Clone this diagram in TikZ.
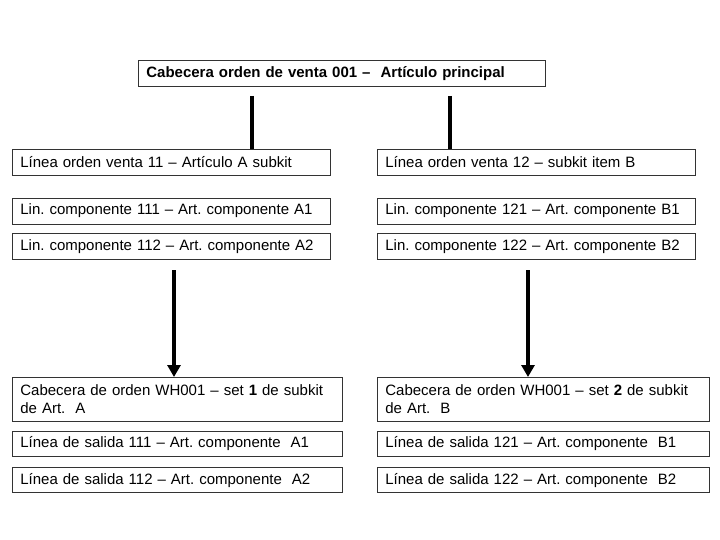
\documentclass[tikz,border=0pt]{standalone}
\usepackage{fontspec}
\setmainfont{Liberation Sans}
\usetikzlibrary{positioning,arrows.meta}
\tikzset{
	ordbox/.style={draw=black!80, line width=0.7pt, inner xsep=8pt, inner ysep=0pt,
		align=left, anchor=north west, font=\fontsize{15}{18.5}\selectfont\frenchspacing},
	stem/.style={line width=4pt},
	flow/.style={line width=4pt, -{Triangle[width=13pt,length=12pt]}},
}

\begin{document}
\begin{tikzpicture}[x=1pt, y=-1pt]
	\useasboundingbox (0,0) rectangle (720,540);

	% cabecera
	\node[ordbox, text width=391pt, minimum height=26pt] (cab) at (138,60)
		{\bfseries Cabecera orden de venta 001 –~ Artículo principal};

	% lado A
	\node[ordbox, text width=302pt, minimum height=26pt] (olA) at (12,149)
		{Línea orden venta 11 – Artículo A subkit};
	\node[ordbox, text width=302pt, minimum height=26pt, below=22pt of olA] (clA1)
		{Lin. componente 111 – Art. componente A1};
	\node[ordbox, text width=302pt, minimum height=26pt, below=9pt of clA1] (clA2)
		{Lin. componente 112 – Art. componente A2};
	\node[ordbox, text width=314pt, minimum height=44pt] (whA) at (12,377)
		{Cabecera de orden WH001 – set \textbf{1} de subkit\\de Art.~ A};
	\node[ordbox, text width=314pt, minimum height=25pt, below=9pt of whA] (slA1)
		{Línea de salida 111 – Art. componente~ A1};
	\node[ordbox, text width=314pt, minimum height=25pt, below=11pt of slA1] (slA2)
		{Línea de salida 112 – Art. componente~ A2};

	% lado B
	\node[ordbox, text width=302pt, minimum height=26pt] (olB) at (377,149)
		{Línea orden venta 12 – subkit item B};
	\node[ordbox, text width=302pt, minimum height=26pt, below=22pt of olB] (clB1)
		{Lin. componente 121 – Art. componente B1};
	\node[ordbox, text width=302pt, minimum height=26pt, below=9pt of clB1] (clB2)
		{Lin. componente 122 – Art. componente B2};
	\node[ordbox, text width=316pt, minimum height=44pt] (whB) at (377,377)
		{Cabecera de orden WH001 – set \textbf{2} de subkit\\de Art.~ B};
	\node[ordbox, text width=316pt, minimum height=25pt, below=9pt of whB] (slB1)
		{Línea de salida 121 – Art. componente~ B1};
	\node[ordbox, text width=316pt, minimum height=25pt, below=11pt of slB1] (slB2)
		{Línea de salida 122 – Art. componente~ B2};

	\coordinate (stemA) at (252,96);
	\coordinate (stemB) at (450,96);
	\coordinate (arrA) at (174,270);
	\coordinate (arrB) at (528,270);

	\draw[stem] (stemA) -- (stemA |- olA.north);
	\draw[stem] (stemB) -- (stemB |- olB.north);
	\draw[flow] (arrA) -- (arrA |- whA.north);
	\draw[flow] (arrB) -- (arrB |- whB.north);
\end{tikzpicture}
\end{document}
